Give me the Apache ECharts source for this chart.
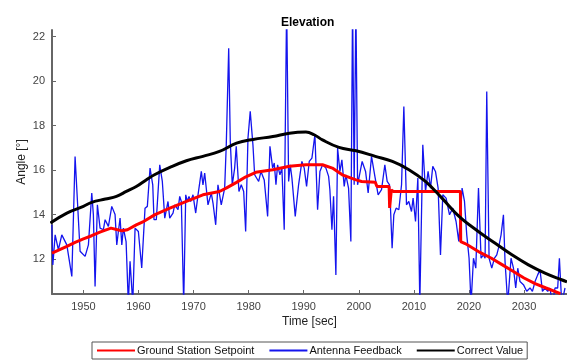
<!DOCTYPE html>
<html><head><meta charset="utf-8">
<script src="https://cdn.jsdelivr.net/npm/echarts@6/dist/echarts.min.js"></script>
<style>html,body{margin:0;padding:0;background:#fff}#c{width:567px;height:360px}</style>
</head><body><div id="c"></div>
<script>
const xTicks = [1950, 1960, 1970, 1980, 1990, 2000, 2010, 2020, 2030];
const yTicks = [12, 14, 16, 18, 20, 22];

// Ground Station Setpoint
const setT = [1944.3,1945.5,1947,1948.5,1950,1951.5,1953,1955,1956,1957,1958,1959.6,1961,1963,1965.7,1968.7,1971.7,1974.7,1976,1977.8,1979.5,1981.3,1984.4,1987.4,1990.4,1993.4,1995.2,1997,1999.5,2000.5,2003,2003.3,2005.5,2005.6,2005.8,2005.9,2006.3,2018.45,2018.5,2019.3,2020,2022,2024,2026,2028,2030,2032,2034,2036.6];
const setV = [12.27,12.4,12.57,12.75,12.91,13.05,13.21,13.39,13.33,13.27,13.32,13.54,13.7,14.0,14.29,14.59,14.89,15.04,15.2,15.45,15.7,15.9,16.02,16.17,16.24,16.24,16.09,15.79,15.56,15.49,15.45,15.26,15.26,14.3,14.3,15.1,15.04,15.04,12.79,12.7,12.6,12.3,12.05,11.75,11.45,11.15,10.9,10.7,10.45];

// Antenna Feedback
const fbT = [1944.27,1944.45,1944.87,1945.46,1946.08,1946.99,1947.90,1948.49,1949.40,1950.31,1950.91,1951.52,1951.81,1952.12,1952.54,1953.03,1953.63,1953.94,1954.54,1955.15,1955.75,1956.06,1956.35,1956.66,1956.97,1957.26,1957.75,1958.16,1958.47,1958.96,1959.38,1959.98,1960.59,1961.19,1961.61,1962.10,1962.59,1962.82,1963.24,1963.86,1964.33,1964.77,1965.36,1965.67,1966.27,1966.58,1967.18,1967.49,1967.78,1968.21,1968.58,1968.87,1969.17,1969.48,1969.90,1970.39,1970.81,1971.41,1971.71,1972.02,1972.62,1973.22,1973.53,1974.02,1974.43,1975.03,1975.65,1975.94,1976.38,1976.67,1977.03,1977.46,1977.75,1978.24,1978.66,1979.10,1979.46,1979.88,1980.29,1980.78,1981.09,1981.33,1981.82,1982.24,1982.83,1983.45,1983.87,1984.36,1984.65,1984.96,1985.26,1985.68,1986.04,1986.46,1986.90,1987.26,1987.55,1987.86,1988.46,1989.07,1989.67,1990.09,1990.52,1991.00,1991.49,1992.03,1992.52,1992.94,1993.43,1994.03,1994.52,1994.75,1995.12,1995.42,1995.84,1996.15,1996.57,1996.93,1997.35,1997.65,1998.14,1998.56,1998.87,1999.16,1999.47,1999.78,2000.61,2001.23,2001.70,2002.31,2002.92,2003.51,2004.13,2004.73,2005.15,2005.58,2006.05,2006.36,2006.78,2007.27,2007.76,2008.18,2008.66,2009.08,2009.57,2009.86,2010.30,2010.72,2011.08,2011.62,2012.11,2012.58,2013.02,2013.43,2013.92,2014.40,2014.83,2015.25,2015.85,2016.47,2017.06,2017.66,2018.15,2018.75,2019.19,2019.60,2020.02,2020.38,2020.82,2021.24,2021.73,2022.20,2022.63,2022.93,2023.23,2023.65,2024.14,2024.63,2025.05,2025.36,2025.83,2026.26,2026.55,2027.04,2027.64,2028.08,2028.49,2028.86,2029.27,2029.89,2030.49,2031.09,2031.52,2032.00,2032.48,2032.90,2033.34,2033.81,2034.30,2034.71,2035.15,2035.62,2036.11,2036.42,2036.84,2037.44];
const fbV = [13.54,11.74,13.09,12.42,13.09,12.64,11.22,16.61,12.35,12.12,12.64,14.97,14.00,10.77,14.44,13.39,13.32,13.77,13.47,14.37,14.00,12.64,13.24,13.84,12.64,13.39,12.79,10.00,11.90,10.00,13.39,13.24,11.60,14.29,14.37,16.09,15.34,13.77,13.77,16.24,15.49,13.84,14.59,13.84,14.07,14.44,14.22,14.82,14.59,10.00,14.89,14.59,14.82,14.59,14.89,14.07,14.89,15.94,15.34,15.87,14.44,14.97,14.52,13.54,15.34,14.44,15.19,17.14,21.48,17.29,15.34,16.09,17.07,15.04,15.34,15.04,13.24,17.44,18.64,17.14,15.79,15.72,15.49,15.94,15.56,13.92,17.07,16.09,16.32,15.34,16.24,15.79,16.09,13.32,23.50,15.49,16.24,15.64,13.92,15.34,16.39,16.09,15.27,16.39,16.54,17.59,14.22,15.94,16.24,16.09,15.72,15.12,13.32,14.82,11.29,16.99,15.94,16.46,15.27,15.79,15.19,12.79,23.50,15.34,23.50,15.34,16.39,15.94,14.97,16.62,15.72,14.89,15.12,16.24,15.49,15.34,12.49,13.99,14.29,14.22,15.34,18.86,14.44,14.59,14.14,14.74,13.69,15.64,10.00,17.14,15.04,15.94,15.19,16.17,15.94,15.19,12.19,14.89,14.74,13.99,14.29,13.69,12.79,15.19,14.59,13.09,12.04,10.00,12.04,11.59,15.19,12.04,12.19,12.04,19.54,12.04,11.59,12.04,12.19,12.49,13.09,13.99,11.89,10.00,12.04,11.59,10.70,11.59,10.99,10.85,10.55,10.70,10.55,10.99,11.29,11.52,10.55,10.70,10.55,10.70,10.00,10.70,10.70,12.04,10.00,10.70];

// Correct Value
const corT = [1944.0,1947.0,1950.0,1951.5,1954.0,1956.0,1957.8,1959.6,1961.4,1962.9,1965.7,1968.7,1971.7,1974.7,1977.8,1980.8,1984.4,1987.4,1990.4,1991.9,1993.4,1996.4,1999.5,2003.0,2006.1,2009.1,2012.1,2015.1,2018.2,2021.7,2024.7,2027.8,2030.8,2033.8,2036.8,2037.8];
const corV = [13.62,14.07,14.37,14.55,14.7,14.82,15.04,15.26,15.56,15.79,16.12,16.42,16.62,16.84,17.21,17.38,17.51,17.66,17.71,17.59,17.36,17.02,16.87,16.62,16.39,16.02,15.49,14.74,13.92,13.24,12.72,12.19,11.74,11.37,11.07,10.98];

const zip = (a, b) => a.map((t, i) => [t, b[i]]);
const FONT = 'Liberation Sans, Arial, sans-serif';

const chart = echarts.init(document.getElementById('c'), null, {renderer: 'canvas'});
chart.setOption({
  animation: false,
  backgroundColor: '#fff',
  title: {
    text: 'Elevation', left: 276, top: 12,
    textStyle: {fontFamily: FONT, fontSize: 12, fontWeight: 'bold', color: '#000'}
  },
  grid: {left: 52, right: 0, top: 30, bottom: 66},
  xAxis: {
    type: 'value', min: 1944.3, max: 2037.8,
    name: 'Time [sec]', nameLocation: 'middle', nameGap: 22, nameMoveOverlap: false,
    nameTextStyle: {fontFamily: FONT, fontSize: 12, color: '#222'},
    axisLine: {lineStyle: {color: '#666', width: 2}},
    axisTick: {inside: true, length: 4, customValues: xTicks, lineStyle: {color: '#666', width: 1}},
    axisLabel: {customValues: xTicks, margin: 7, fontFamily: FONT, fontSize: 11, color: '#444',
      formatter: v => String(Math.round(v))},
    splitLine: {show: false}
  },
  yAxis: {
    type: 'value', min: 10.43, max: 22.3,
    name: 'Angle [°]', nameLocation: 'middle', nameGap: 24, nameMoveOverlap: false,
    nameTextStyle: {fontFamily: FONT, fontSize: 12, color: '#222'},
    axisLine: {show: true, lineStyle: {color: '#666', width: 2}},
    axisTick: {show: true, inside: true, length: 4, customValues: yTicks, lineStyle: {color: '#666', width: 1}},
    axisLabel: {customValues: yTicks, margin: 7, fontFamily: FONT, fontSize: 11, color: '#444',
      formatter: v => String(Math.round(v))},
    splitLine: {show: false}
  },
  legend: {
    left: 92, top: 342, itemWidth: 38, itemHeight: 10, itemGap: 14,
    padding: [3, 4, 3, 4],
    borderColor: '#555', borderWidth: 1,
    itemStyle: {opacity: 0},
    textStyle: {fontFamily: FONT, fontSize: 11, color: '#111', padding: [0, 0, 0, -3]},
    data: ['Ground Station Setpoint', 'Antenna Feedback', 'Correct Value']
  },
  series: [
    {name: 'Antenna Feedback', type: 'line', data: zip(fbT, fbV), symbol: 'none', clip: true,
     lineStyle: {color: '#1414ee', width: 1.3}, itemStyle: {color: '#1414ee'}, z: 2},
    {name: 'Ground Station Setpoint', type: 'line', data: zip(setT, setV), symbol: 'none', clip: true,
     lineStyle: {color: '#ff0000', width: 3}, itemStyle: {color: '#ff0000'}, z: 3},
    {name: 'Correct Value', type: 'line', data: zip(corT, corV), symbol: 'none', smooth: 0.4, clip: true,
     lineStyle: {color: '#000', width: 3}, itemStyle: {color: '#000'}, z: 4}
  ]
});
</script>
</body></html>
